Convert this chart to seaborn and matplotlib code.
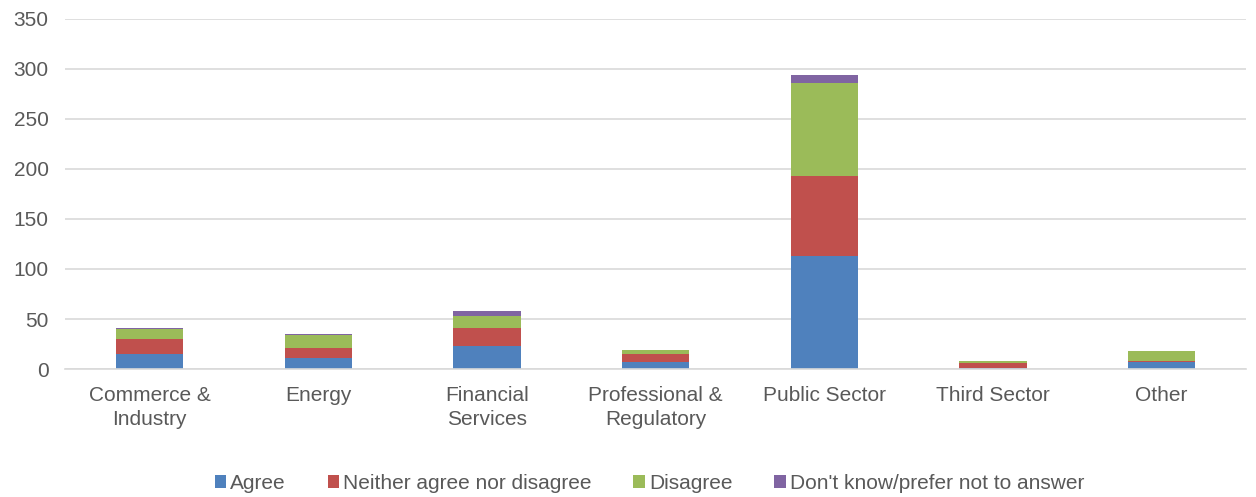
import matplotlib
matplotlib.use("Agg")
import matplotlib.pyplot as plt
import numpy as np
import pandas as pd
import seaborn as sns

categories = ["Commerce &\nIndustry", "Energy", "Financial\nServices",
              "Professional &\nRegulatory", "Public Sector", "Third Sector", "Other"]
agree = [15, 11, 23, 7, 113, 1, 7]
neither = [15, 10, 18, 8, 80, 5, 1]
disagree = [10, 13, 12, 4, 93, 2, 10]
dont_know = [1, 1, 5, 0, 8, 0, 0]

series_names = ["Agree", "Neither agree nor disagree", "Disagree",
                "Don't know/prefer not to answer"]
colors = ["#4F81BD", "#C0504D", "#9BBB59", "#8064A2"]


def plot():
    sns.set_theme(style="white")
    plt.rcParams["font.family"] = ["Liberation Sans", "DejaVu Sans"]

    fig = plt.figure(figsize=(12.56, 4.97), dpi=100)
    ax = fig.add_axes([0.052, 0.2575, 0.94, 0.7045])

    bottom = np.zeros(len(categories))
    for name, values, color in zip(series_names, [agree, neither, disagree, dont_know], colors):
        df = pd.DataFrame({"category": categories, "value": values})
        sns.barplot(data=df, x="category", y="value", bottom=bottom, color=color,
                    width=0.4, ax=ax, label=name, linewidth=0, saturation=1)
        bottom = bottom + np.array(values)

    ax.set_ylim(0, 350)
    ax.set_yticks(range(0, 351, 50))
    ax.set_xlim(-0.5, len(categories) - 0.5)
    ax.yaxis.grid(True, color="#D9D9D9", linewidth=1.2)
    ax.set_axisbelow(True)
    for side in ["left", "right", "top"]:
        ax.spines[side].set_visible(False)
    ax.spines["bottom"].set_color("#D9D9D9")
    ax.spines["bottom"].set_linewidth(1.2)
    ax.set_xlabel("")
    ax.set_ylabel("")
    ax.tick_params(axis="both", colors="#595959", labelsize=15, length=0)
    ax.tick_params(axis="x", pad=12)
    ax.tick_params(axis="y", pad=12)
    for label in ax.get_xticklabels():
        label.set_linespacing(1.35)

    ax.get_legend().remove()
    handles, labels = ax.get_legend_handles_labels()
    fig.legend(handles, labels, loc="center", bbox_to_anchor=(0.517, 0.027),
               bbox_transform=fig.transFigure, ncol=4, frameon=False,
               fontsize=15, handlelength=0.55, handleheight=0.55, handletextpad=0.2,
               columnspacing=2.0, labelcolor="#595959")

    fig.savefig("out.png", dpi=100)


if __name__ == "__main__":
    plot()
